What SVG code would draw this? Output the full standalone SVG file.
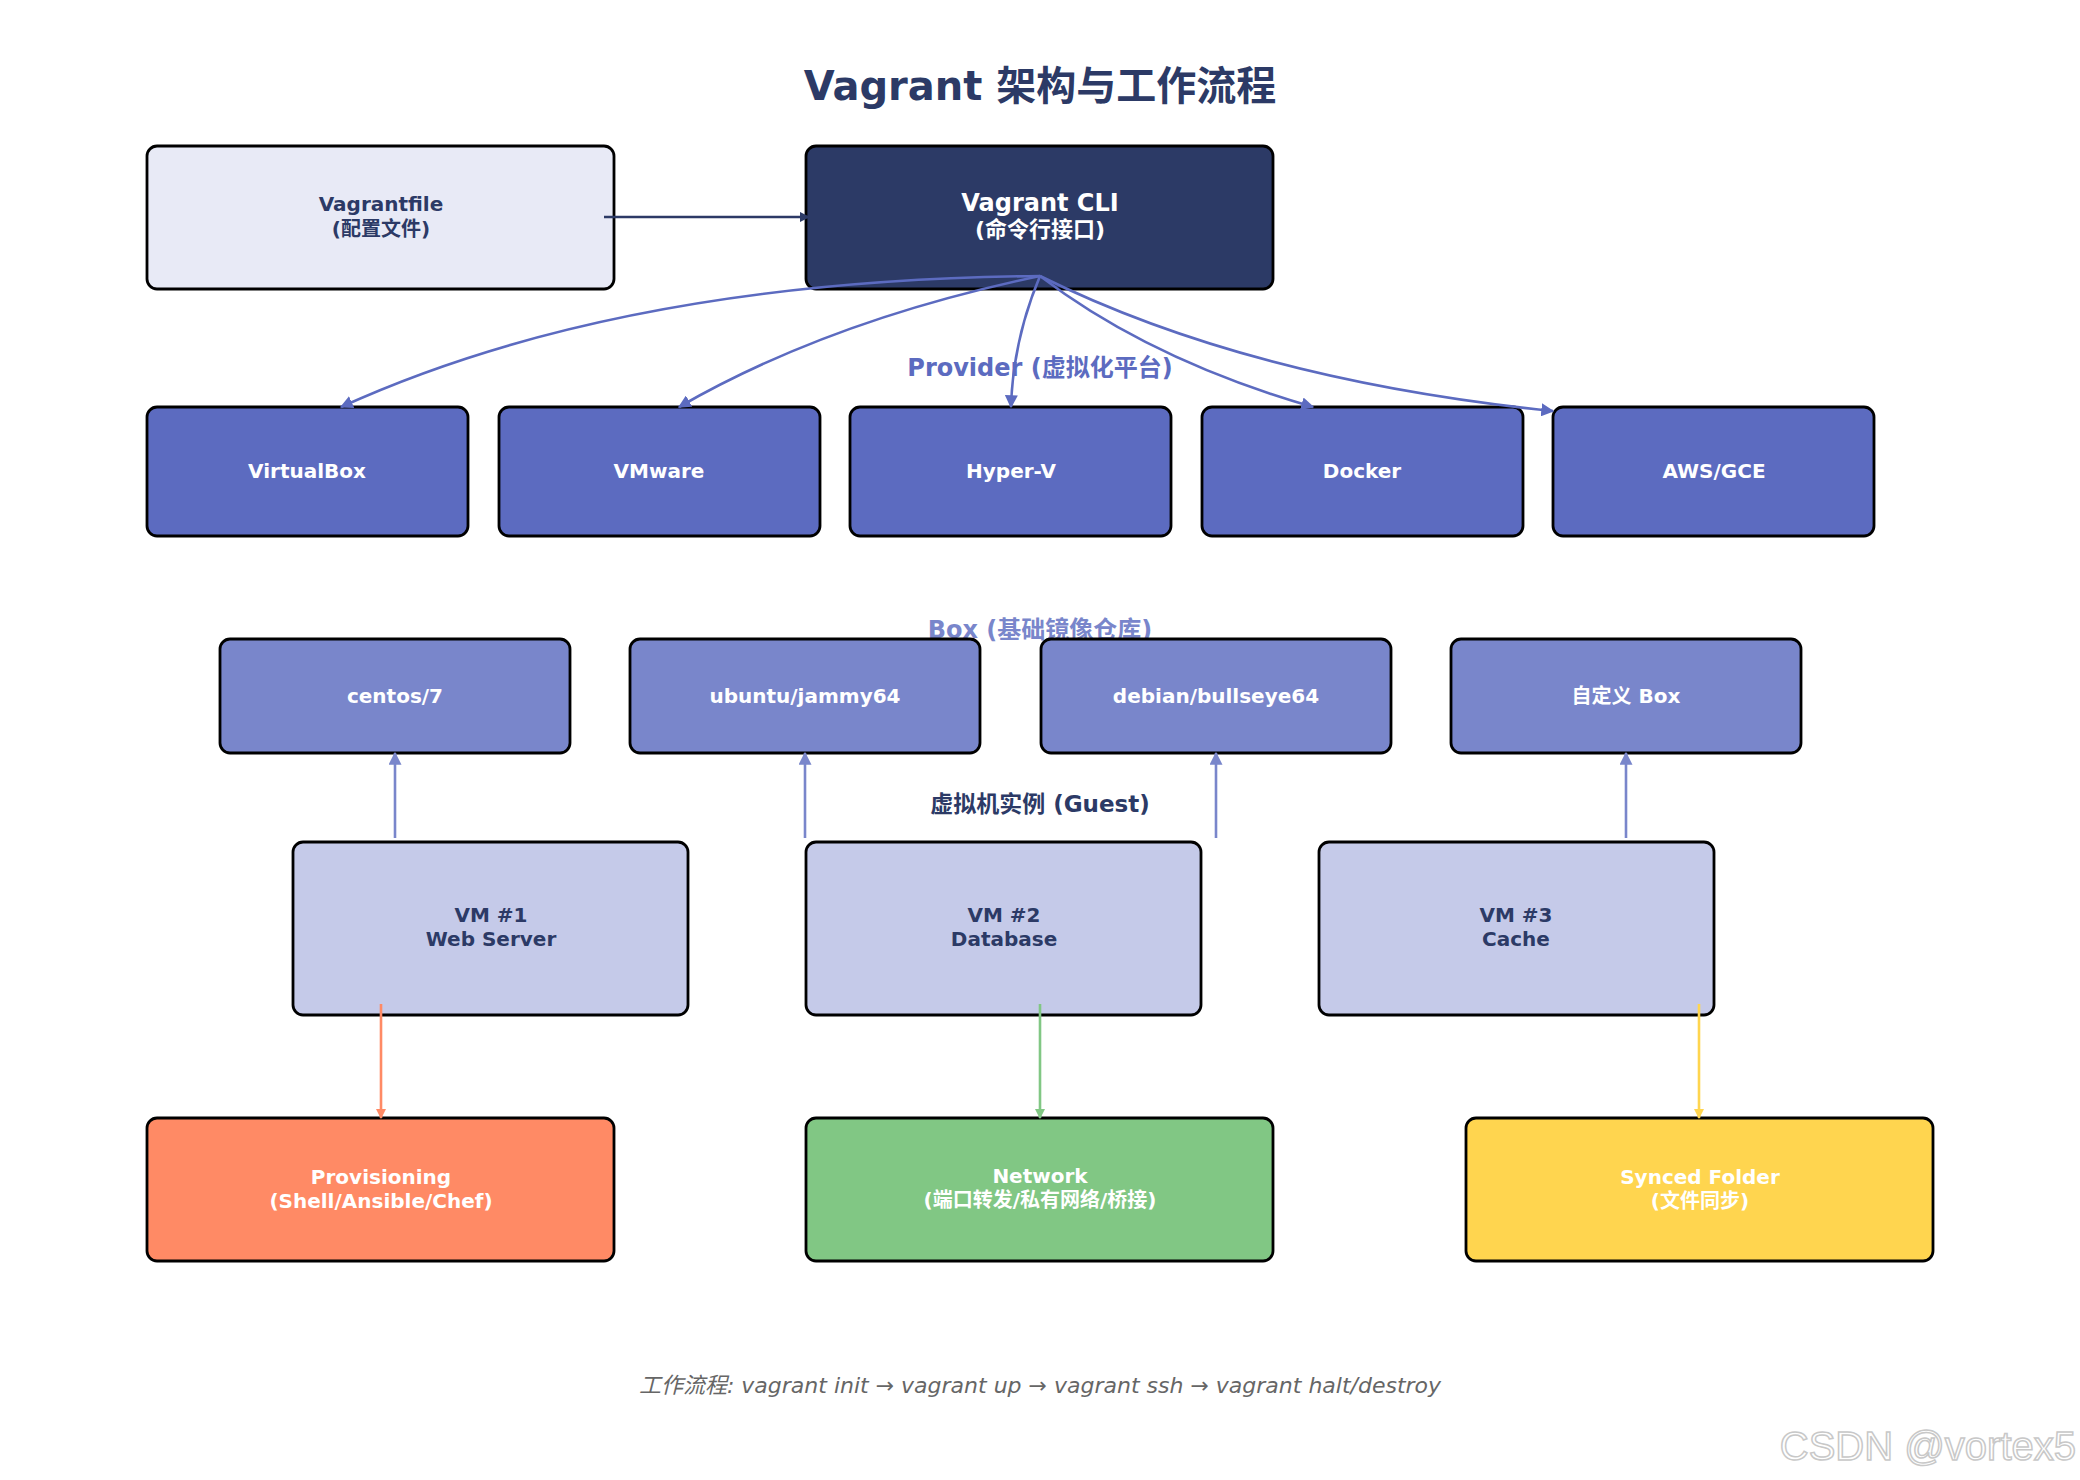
<svg xmlns="http://www.w3.org/2000/svg" width="2080" height="1480" viewBox="0 0 2080 1480">
<style>
text{font-family:"DejaVu Sans","Noto Sans CJK SC",sans-serif;text-anchor:middle;font-weight:bold}
.n{stroke:#000;stroke-width:2.8}
.t{font-size:20px;fill:#fff}
.d{fill:#2c3a66}
.c{fill:none;stroke-width:2.6}
</style>
<defs>
<marker id="ap" viewBox="0 0 10 10" refX="9" refY="5" markerWidth="5" markerHeight="5" orient="auto"><path d="M0,0L10,5L0,10z" fill="#5c6bc0"/></marker>
<marker id="ab" viewBox="0 0 10 10" refX="9" refY="5" markerWidth="5" markerHeight="5" orient="auto"><path d="M0,0L10,5L0,10z" fill="#7986cb"/></marker>
<marker id="an" viewBox="0 0 10 10" refX="9" refY="5" markerWidth="4" markerHeight="4" orient="auto"><path d="M0,0L10,5L0,10z" fill="#2c3a66"/></marker>
<marker id="ao" viewBox="0 0 10 10" refX="9" refY="5" markerWidth="4" markerHeight="4" orient="auto"><path d="M0,0L10,5L0,10z" fill="#ff8a65"/></marker>
<marker id="ag" viewBox="0 0 10 10" refX="9" refY="5" markerWidth="4" markerHeight="4" orient="auto"><path d="M0,0L10,5L0,10z" fill="#81c784"/></marker>
<marker id="ay" viewBox="0 0 10 10" refX="9" refY="5" markerWidth="4" markerHeight="4" orient="auto"><path d="M0,0L10,5L0,10z" fill="#ffd54f"/></marker>
</defs>
<rect width="2080" height="1480" fill="#fff"/>
<text x="1040" y="100" style="font-size:40px" class="d">Vagrant 架构与工作流程</text>
<text x="1040" y="376" style="font-size:24px;fill:#5c6bc0">Provider (虚拟化平台)</text>
<text x="1040" y="638" style="font-size:24px;fill:#7986cb">Box (基础镜像仓库)</text>
<text x="1040" y="812" style="font-size:23px" class="d">虚拟机实例 (Guest)</text>

<g id="nodes">
<g id="vagrantfile"><rect class="n" x="147" y="146" width="467" height="143" rx="10" fill="#e8eaf6"/><text x="381" y="211" class="t d" style="fill:#2c3a66">Vagrantfile</text><text x="381" y="236" class="t" style="fill:#2c3a66">(配置文件)</text></g>
<g id="cli"><rect class="n" x="806" y="146" width="467" height="143" rx="10" fill="#2c3a66"/><text x="1040" y="211" class="t" style="font-size:24px">Vagrant CLI</text><text x="1040" y="237" class="t" style="font-size:22px">(命令行接口)</text></g>
<g id="virtualbox"><rect class="n" x="147" y="407" width="321" height="129" rx="10" fill="#5c6bc0"/><text x="307" y="478" class="t">VirtualBox</text></g>
<g id="vmware"><rect class="n" x="499" y="407" width="321" height="129" rx="10" fill="#5c6bc0"/><text x="659" y="478" class="t">VMware</text></g>
<g id="hyperv"><rect class="n" x="850" y="407" width="321" height="129" rx="10" fill="#5c6bc0"/><text x="1011" y="478" class="t">Hyper-V</text></g>
<g id="docker"><rect class="n" x="1202" y="407" width="321" height="129" rx="10" fill="#5c6bc0"/><text x="1362" y="478" class="t">Docker</text></g>
<g id="awsgce"><rect class="n" x="1553" y="407" width="321" height="129" rx="10" fill="#5c6bc0"/><text x="1714" y="478" class="t">AWS/GCE</text></g>
<g id="centos"><rect class="n" x="220" y="639" width="350" height="114" rx="10" fill="#7986cb"/><text x="395" y="703" class="t">centos/7</text></g>
<g id="ubuntu"><rect class="n" x="630" y="639" width="350" height="114" rx="10" fill="#7986cb"/><text x="805" y="703" class="t">ubuntu/jammy64</text></g>
<g id="debian"><rect class="n" x="1041" y="639" width="350" height="114" rx="10" fill="#7986cb"/><text x="1216" y="703" class="t">debian/bullseye64</text></g>
<g id="custombox"><rect class="n" x="1451" y="639" width="350" height="114" rx="10" fill="#7986cb"/><text x="1626" y="703" class="t">自定义 Box</text></g>
<g id="vm1"><rect class="n" x="293" y="842" width="395" height="173" rx="10" fill="#c5cae9"/><text x="491" y="922" class="t" style="fill:#2c3a66">VM #1</text><text x="491" y="946" class="t" style="fill:#2c3a66">Web Server</text></g>
<g id="vm2"><rect class="n" x="806" y="842" width="395" height="173" rx="10" fill="#c5cae9"/><text x="1004" y="922" class="t" style="fill:#2c3a66">VM #2</text><text x="1004" y="946" class="t" style="fill:#2c3a66">Database</text></g>
<g id="vm3"><rect class="n" x="1319" y="842" width="395" height="173" rx="10" fill="#c5cae9"/><text x="1516" y="922" class="t" style="fill:#2c3a66">VM #3</text><text x="1516" y="946" class="t" style="fill:#2c3a66">Cache</text></g>
<g id="provisioning"><rect class="n" x="147" y="1118" width="467" height="143" rx="10" fill="#ff8a65"/><text x="381" y="1184" class="t">Provisioning</text><text x="381" y="1208" class="t">(Shell/Ansible/Chef)</text></g>
<g id="network"><rect class="n" x="806" y="1118" width="467" height="143" rx="10" fill="#81c784"/><text x="1040" y="1183" class="t">Network</text><text x="1040" y="1207" class="t">(端口转发/私有网络/桥接)</text></g>
<g id="synced"><rect class="n" x="1466" y="1118" width="467" height="143" rx="10" fill="#ffd54f"/><text x="1700" y="1184" class="t">Synced Folder</text><text x="1700" y="1208" class="t">(文件同步)</text></g>
</g>

<g id="connectors">
<path class="c" d="M604,217H809" stroke="#2c3a66" stroke-width="4" marker-end="url(#an)"/>
<path class="c" stroke="#5c6bc0" d="M1040,276Q620,280 341,407" marker-end="url(#ap)"/>
<path class="c" stroke="#5c6bc0" d="M1040,276Q830,320 679,407" marker-end="url(#ap)"/>
<path class="c" stroke="#5c6bc0" d="M1040,276Q1013,340 1011,407" marker-end="url(#ap)"/>
<path class="c" stroke="#5c6bc0" d="M1040,276Q1150,360 1313,407" marker-end="url(#ap)"/>
<path class="c" stroke="#5c6bc0" d="M1040,276Q1250,380 1553,411" marker-end="url(#ap)"/>
<path class="c" stroke="#7986cb" d="M395,838V753" marker-end="url(#ab)"/>
<path class="c" stroke="#7986cb" d="M805,838V753" marker-end="url(#ab)"/>
<path class="c" stroke="#7986cb" d="M1216,838V753" marker-end="url(#ab)"/>
<path class="c" stroke="#7986cb" d="M1626,838V753" marker-end="url(#ab)"/>
<path class="c" stroke="#ff8a65" stroke-width="3.5" d="M381,1004V1118" marker-end="url(#ao)"/>
<path class="c" stroke="#81c784" stroke-width="3.5" d="M1040,1004V1118" marker-end="url(#ag)"/>
<path class="c" stroke="#ffd54f" stroke-width="3.5" d="M1699,1004V1118" marker-end="url(#ay)"/>
</g>

<text x="1040" y="1393" style="font-size:22px;font-weight:normal;font-style:italic;fill:#666">工作流程: vagrant init → vagrant up → vagrant ssh → vagrant halt/destroy</text>
<text x="2076" y="1460" style="font-family:'Liberation Sans',sans-serif;font-size:40px;font-weight:normal;text-anchor:end;fill:#fff;stroke:#c8c8c8;stroke-width:1.5">CSDN @vortex5</text>
</svg>
